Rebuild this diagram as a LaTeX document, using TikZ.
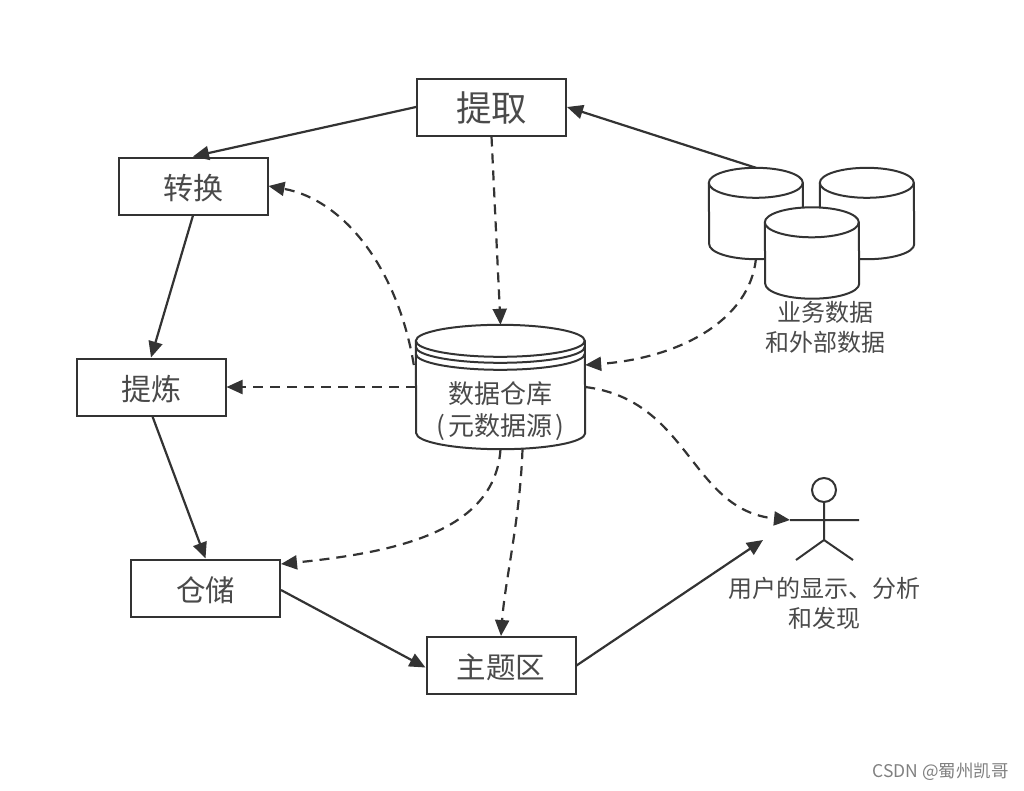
\documentclass[tikz,border=0pt]{standalone}
\usepackage{fontspec}
\setmainfont{Noto Sans CJK SC}
\usetikzlibrary{arrows.meta}
\definecolor{inkline}{HTML}{333333}
\definecolor{inktext}{HTML}{4A4A4A}
\tikzset{
  stepbox/.style={draw=inkline,line width=2pt,fill=white,text=inktext,minimum width=149pt,minimum height=57pt,inner sep=0pt,text height=29pt,text depth=3pt},
  dbsmall/.style={minimum width=94pt,minimum height=91pt,inner sep=0pt},
  dbbig/.style={minimum width=169pt,minimum height=124pt,inner sep=0pt},
  dbline/.style={draw=inkline,line width=2pt},
  flow/.style={draw=inkline,line width=2.2pt,-{Triangle[length=16pt,width=14pt]}},
  dataflow/.style={flow,dash pattern=on 10pt off 7pt},
  label/.style={text=inktext,align=center,inner sep=0pt,font=\fontsize{24}{30}\selectfont}
}
\newcommand{\dbdraw}[3]{
  \draw[dbline,fill=white] ([yshift=-#3]#1.north west) arc[start angle=180,end angle=0,x radius=#2,y radius=#3]
    -- ([yshift=#3]#1.south east) arc[start angle=0,end angle=-180,x radius=#2,y radius=#3] -- cycle;
  \draw[dbline] ([yshift=-#3]#1.north west) arc[start angle=180,end angle=360,x radius=#2,y radius=#3];
}
\begin{document}
\begin{tikzpicture}[x=1pt,y=-1pt]
\useasboundingbox (0,0) rectangle (1024,790);
\node[stepbox,text height=32pt,font=\fontsize{35.5}{38}\selectfont] (extract) at (491.5,107) {提取};
\node[stepbox,font=\fontsize{30}{32}\selectfont] (transform) at (193,186) {转换};
\node[stepbox,font=\fontsize{30}{32}\selectfont] (refine) at (151,387) {提炼};
\node[stepbox,font=\fontsize{29.5}{32}\selectfont] (store) at (205.5,588) {仓储};
\node[stepbox,font=\fontsize{29.5}{32}\selectfont] (subject) at (501,665.5) {主题区};

\node[dbsmall] (srcleft) at (756,213.5) {};
\node[dbsmall] (srcright) at (867,213.5) {};
\node[dbsmall] (srcfront) at (812,253) {};
\dbdraw{srcleft}{47pt}{15pt}
\dbdraw{srcright}{47pt}{15pt}
\dbdraw{srcfront}{47pt}{15pt}
\node[label] (srctext) at (825,327) {业务数据\\和外部数据};

\node[dbbig] (warehouse) at (500.5,387) {};
\dbdraw{warehouse}{84.5pt}{16pt}
\draw[dbline] ([yshift=-22pt]warehouse.north west) arc[start angle=180,end angle=360,x radius=84.5pt,y radius=16pt];
\draw[dbline] ([yshift=-29pt]warehouse.north west) arc[start angle=180,end angle=360,x radius=84.5pt,y radius=16pt];
\node[label,font=\fontsize{26}{32}\selectfont] (whtext) at (500.5,411) {数据仓库\\(\kern3pt 元数据源\kern3pt )};

\node[circle,dbline,minimum size=24pt,inner sep=0pt] (head) at (824,490) {};
\coordinate (waist) at (824,540);
\coordinate (armleft) at (790,520);
\coordinate (armright) at (859,520);
\coordinate (legleft) at (796,560);
\coordinate (legright) at (853,560);
\coordinate (userin) at (763,540);
\draw[dbline] (head) -- (waist) (armleft) -- (armright) (legleft) -- (waist) -- (legright);
\node[label] (usertext) at (824,603) {用户的显示、分析\\和发现};

\draw[flow] (extract.west) -- (transform.north);
\draw[flow] (srcleft.north) -- (extract.east);
\draw[flow] (transform.south) -- (refine.north);
\draw[flow] ([xshift=-53pt]store.north |- refine.south) -- (store.north);
\draw[flow] ([yshift=-2pt]store.east) -- ([yshift=-2pt]subject.west);
\draw[flow] (subject.east) -- (userin);

\draw[dataflow] (extract.south) -- (warehouse.north);
\draw[dataflow] ([xshift=-2pt,yshift=22pt]warehouse.west) .. controls (398,270) and (345,200) .. (transform.east);
\draw[dataflow] (warehouse.west) -- (refine.east);
\draw[dataflow] (warehouse.south) .. controls (495,530) and (400,552) .. (store.east |- 0,564);
\draw[dataflow] ([xshift=22pt]warehouse.south) .. controls (520,520) and (505,580) .. (subject.north);
\draw[dataflow] ([yshift=1pt]srcleft.south) .. controls (750,320) and (680,358) .. ([yshift=22pt]warehouse.east);
\draw[dataflow] (warehouse.east) .. controls (690,400) and (690,510) .. (armleft);

\node[anchor=east,text=gray,inner sep=0pt,font=\fontsize{17.5}{20}\selectfont] (mark) at (1009,772) {CSDN @蜀州凯哥};
\end{tikzpicture}
\end{document}
